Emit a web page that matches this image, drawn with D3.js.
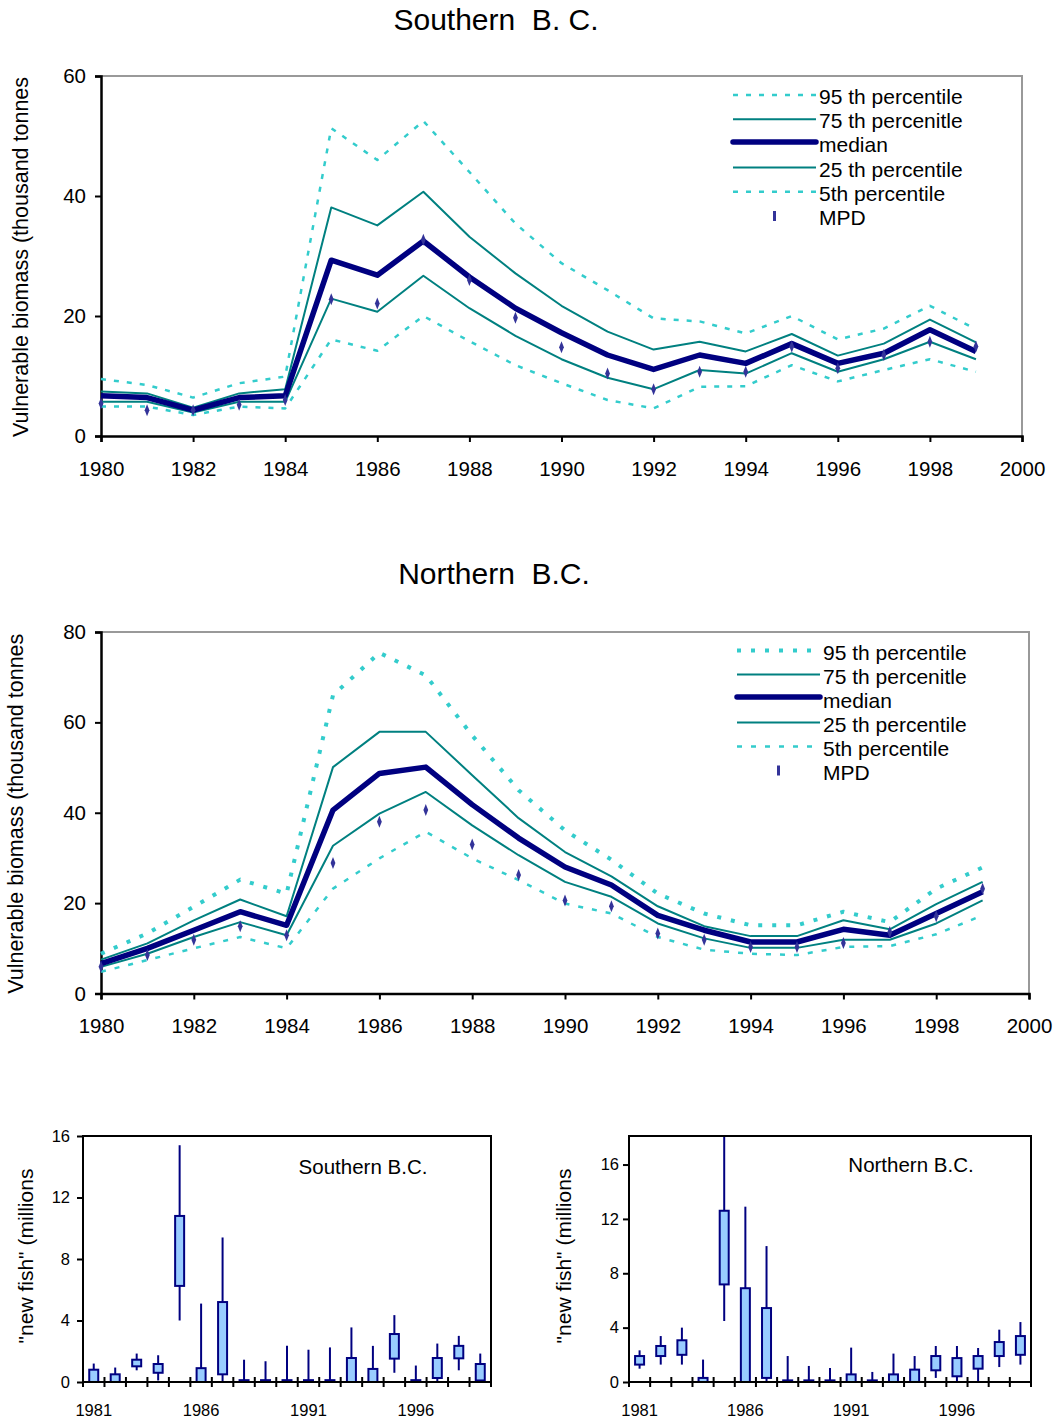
<!DOCTYPE html>
<html><head><meta charset="utf-8">
<script src="https://cdn.jsdelivr.net/npm/d3@7"></script>
<style>
body{margin:0;background:#fff}
text{font-family:"Liberation Sans",Arial,sans-serif;fill:#000;white-space:pre}
</style>
</head><body>
<svg id="chart" width="1055" height="1422"></svg>
<script>
// ---------- DATA ----------
const years = [1980,1981,1982,1983,1984,1985,1986,1987,1988,1989,1990,1991,1992,1993,1994,1995,1996,1997,1998,1999];
const xTickYears = [1980,1982,1984,1986,1988,1990,1992,1994,1996,1998,2000];
const southYTicks = [0,20,40,60];
const northYTicks = [0,20,40,60,80];

const southP95 = [9.5,8.5,6.4,8.8,9.9,51.3,46.0,52.5,44.0,35.4,28.8,24.3,19.6,19.1,17.1,20.0,16.1,17.9,21.7,17.8];
const southP75 = [7.4,7.1,4.7,7.1,7.8,38.1,35.1,40.7,33.2,27.1,21.7,17.4,14.4,15.7,14.1,17.0,13.4,15.4,19.4,15.6];
const southMedian = [6.7,6.4,4.3,6.4,6.7,29.3,26.8,32.5,26.5,21.3,17.2,13.5,11.1,13.5,12.1,15.4,12.1,13.8,17.7,14.1];
const southP25 = [5.7,5.7,3.9,5.7,5.7,22.9,20.7,26.7,21.3,16.7,12.8,9.7,7.8,11.0,10.4,13.8,10.7,12.8,15.7,12.8];
const southP5 = [4.9,4.9,3.5,4.9,4.6,16.1,14.2,20.0,15.8,11.8,8.8,6.0,4.6,8.2,8.3,11.8,9.1,11.0,12.8,10.7];
const southMPD = [5.4,4.3,4.3,5.2,6.0,22.8,22.1,32.7,26.0,19.7,14.8,10.4,7.8,10.7,10.7,14.9,11.3,13.5,15.7,14.9];

const northP95 = [8.8,13.3,19.2,25.2,22.1,66.0,75.4,70.4,57.1,45.0,36.1,29.6,22.1,17.7,15.1,15.1,18.1,15.8,23.2,27.9];
const northP75 = [7.5,11.1,16.2,20.8,17.1,50.1,57.9,57.9,48.3,38.8,31.3,25.9,19.3,14.9,12.7,12.7,16.2,14.2,19.8,24.7];
const northMedian = [6.6,10.0,14.0,18.1,15.1,40.6,48.7,50.1,41.8,34.4,28.0,24.0,17.3,14.0,11.4,11.4,14.2,12.9,17.7,22.5];
const northP25 = [5.9,8.8,12.5,15.8,12.9,32.7,39.8,44.6,37.2,30.6,24.7,21.4,15.5,12.2,10.1,10.1,11.9,11.9,15.5,20.6];
const northP5 = [4.8,7.4,10.0,12.5,10.0,23.2,29.9,35.8,29.9,25.1,19.9,17.7,12.5,9.7,8.8,8.5,10.3,10.5,13.1,17.3];
const northMPD = [5.9,8.5,11.9,14.9,12.9,28.9,38.0,40.6,33.0,26.2,20.6,19.3,13.3,11.9,10.3,10.3,11.2,13.6,17.1,23.2];

const legendLabels = ["95 th percentile","75 th percenitle","median","25 th percentile","5th percentile","MPD"];

const recruitYears = [1981,1982,1983,1984,1985,1986,1987,1988,1989,1990,1991,1992,1993,1994,1995,1996,1997,1998,1999];
const boxXLabels = [1981,1986,1991,1996];
const boxYTicks = [0,4,8,12,16];

const southLow  = [0,0,0.76,0.1,4.0,0,0,0,0,0,0,0,0,0,0.6,0,0,0.76,0];
const southQ1   = [0,0,1.02,0.6,6.25,0,0.5,0,0,0,0,0,0,0,1.52,0,0.26,1.54,0.1];
const southQ3   = [0.8,0.5,1.45,1.17,10.8,0.9,5.2,0.12,0.12,0.12,0.12,0.12,1.56,0.85,3.12,0.12,1.56,2.35,1.17];
const southHigh = [1.2,0.94,1.85,1.74,15.4,5.1,9.4,1.45,1.35,2.35,2.1,2.25,3.55,2.35,4.35,1.07,2.5,3.0,1.85];

const northLow  = [0.98,1.28,1.28,0,4.49,0,0,0,0,0,0,0,0,0,0.3,0,0,1.1,1.28];
const northQ1   = [1.28,1.91,2.0,0,7.18,0,0.3,0,0,0,0,0,0,0,0.86,0.42,0.98,1.91,2.0];
const northQ3   = [1.91,2.65,3.07,0.3,12.6,6.9,5.44,0.12,0.12,0.12,0.56,0.12,0.56,0.91,1.91,1.76,1.91,2.94,3.38];
const northHigh = [2.33,3.38,4.0,1.65,19,12.9,10.0,1.91,1.18,1.03,2.53,0.74,2.09,1.91,2.65,2.65,2.5,3.85,4.41];

// ---------- STYLES ----------
const CYAN = "#33cccc", TEAL = "#008080", NAVY = "#000080", MPDC = "#333399", BOXFILL = "#99ccff";
const FONT = '"Liberation Sans",Arial,sans-serif';

const svg = d3.select("#chart");

function lineChart(cfg) {
  const g = svg.append("g");
  const x = d3.scaleLinear().domain([1980, 2000]).range([cfg.left, cfg.right]);
  const y = d3.scaleLinear().domain([0, cfg.ymax]).range([cfg.bottom, cfg.top]);

  // title
  g.append("text").attr("x", cfg.titleX).attr("y", cfg.titleY)
    .attr("text-anchor", "middle").style("font-size", "30px").text(cfg.title);
  // y label
  g.append("text")
    .attr("transform", `translate(${cfg.ylabX},${(cfg.top + cfg.bottom) / 2 + 1}) rotate(-90)`)
    .attr("text-anchor", "middle").style("font-size", "21.5px")
    .text("Vulnerable biomass (thousand tonnes");

  // gray frame top & right
  g.append("path")
    .attr("d", `M${cfg.left},${cfg.top}H${cfg.right}V${cfg.bottom}`)
    .attr("fill", "none").attr("stroke", "#999").attr("stroke-width", 2);

  // axes
  const ax = g.append("g").attr("transform", `translate(0,${cfg.bottom})`)
    .call(d3.axisBottom(x).tickValues(xTickYears).tickFormat(d3.format("d")).tickSizeOuter(0).tickSize(6).tickPadding(19));
  const ay = g.append("g").attr("transform", `translate(${cfg.left},0)`)
    .call(d3.axisLeft(y).tickValues(cfg.yTicks).tickSizeOuter(0).tickSize(6).tickPadding(9));
  [ax, ay].forEach(a => {
    a.selectAll("path.domain").attr("stroke", "#000").attr("stroke-width", 2.5);
    a.selectAll(".tick line").attr("stroke", "#000").attr("stroke-width", 2);
    a.selectAll("text").style("font-size", "20.5px").attr("fill", "#000").style("font-family", FONT);
  });

  const line = d3.line().x((d, i) => x(years[i])).y(d => y(d));
  const series = [
    {v: cfg.p95, c: CYAN, w: cfg.p95w, dash: cfg.p95dash},
    {v: cfg.p75, c: TEAL, w: 2, dash: null},
    {v: cfg.med, c: NAVY, w: 5.5, dash: null},
    {v: cfg.p25, c: TEAL, w: 2, dash: null},
    {v: cfg.p5, c: CYAN, w: cfg.p5w, dash: cfg.p5dash},
  ];
  const drawOrder = [0, 4, 1, 3, 2];
  drawOrder.forEach(k => {
    const s = series[k];
    g.append("path").attr("d", line(s.v)).attr("fill", "none")
      .attr("stroke", s.c).attr("stroke-width", s.w)
      .attr("stroke-dasharray", s.dash).attr("stroke-linejoin", "round");
  });
  // MPD markers
  g.selectAll(null).data(cfg.mpd).enter().append("path")
    .attr("transform", (d, i) => `translate(${x(years[i])},${y(d)})`)
    .attr("d", "M0,-6L2.4,0L0,6L-2.4,0Z").attr("fill", MPDC);

  // legend
  const lg = g.append("g");
  legendLabels.forEach((lab, i) => {
    const by = cfg.legY + i * cfg.legStep;
    const ly = by - (i === 2 ? 10.5 : 9);
    if (i < 5) {
      const s = series[i];
      lg.append("line").attr("x1", cfg.legX1).attr("x2", cfg.legX2).attr("y1", ly).attr("y2", ly)
        .attr("stroke", s.c).attr("stroke-width", s.w).attr("stroke-dasharray", s.dash)
        .attr("stroke-linecap", i === 2 ? "round" : "butt");
    } else {
      lg.append("rect").attr("x", (cfg.legX1 + cfg.legX2) / 2 - 1.5).attr("y", ly - 5).attr("width", 3).attr("height", 10).attr("fill", MPDC);
    }
    lg.append("text").attr("x", cfg.legX2 + 3).attr("y", by).style("font-size", "21px").text(lab);
  });
}

lineChart({
  title: "Southern  B. C.", titleX: 496, titleY: 30,
  left: 101, right: 1022, top: 76, bottom: 436, ymax: 60, yTicks: southYTicks, ylabX: 28,
  p95: southP95, p75: southP75, med: southMedian, p25: southP25, p5: southP5, mpd: southMPD,
  p95w: 2.5, p95dash: "5,8", p5w: 2.5, p5dash: "5,8",
  legX1: 733, legX2: 816, legY: 104, legStep: 24.2
});

lineChart({
  title: "Northern  B.C.", titleX: 494, titleY: 584,
  left: 101, right: 1029, top: 632, bottom: 993.5, ymax: 80, yTicks: northYTicks, ylabX: 23,
  p95: northP95, p75: northP75, med: northMedian, p25: northP25, p5: northP5, mpd: northMPD,
  p95w: 4, p95dash: "4,10", p5w: 2.5, p5dash: "5,9",
  legX1: 737, legX2: 820, legY: 659.5, legStep: 24
});

function boxChart(cfg) {
  const g = svg.append("g");
  const x = d3.scaleBand().domain(recruitYears).range([cfg.left, cfg.right]).padding(0);
  const y = d3.scaleLinear().domain([0, cfg.ymax]).range([cfg.bottom, cfg.top]);
  const bw = x.bandwidth();
  const clipId = "clip" + cfg.id;
  g.append("clipPath").attr("id", clipId).append("rect")
    .attr("x", cfg.left).attr("y", cfg.top).attr("width", cfg.right - cfg.left).attr("height", cfg.bottom - cfg.top);

  // y label
  g.append("text")
    .attr("transform", `translate(${cfg.ylabX},${cfg.ylabY}) rotate(-90)`)
    .attr("text-anchor", "middle").style("font-size", "21px")
    .text('"new fish" (millions');

  // y axis
  const ay = g.append("g").attr("transform", `translate(${cfg.left},0)`)
    .call(d3.axisLeft(y).tickValues(boxYTicks).tickSizeOuter(0).tickSize(6).tickPadding(cfg.yPad));
  ay.selectAll("path.domain").remove();
  ay.selectAll(".tick line").attr("stroke", "#000").attr("stroke-width", 2);
  ay.selectAll("text").style("font-size", "16.5px").attr("fill", "#000").style("font-family", FONT);

  // x labels
  const ax = g.append("g").attr("transform", `translate(0,${cfg.bottom})`)
    .call(d3.axisBottom(x).tickValues(boxXLabels).tickSize(0).tickPadding(22));
  ax.selectAll("path.domain").remove();
  ax.selectAll("text").style("font-size", "16.5px").attr("fill", "#000").style("font-family", FONT);

  // x crossing ticks at band boundaries
  const bounds = recruitYears.map(d => x(d)).concat([x(recruitYears[recruitYears.length - 1]) + bw]);
  g.selectAll(null).data(bounds).enter().append("line")
    .attr("x1", d => d).attr("x2", d => d).attr("y1", cfg.bottom - 5).attr("y2", cfg.bottom + 5)
    .attr("stroke", "#000").attr("stroke-width", 2);

  // boxes
  const pg = g.append("g").attr("clip-path", `url(#${clipId})`);
  const boxW = 9;
  recruitYears.forEach((yr, i) => {
    const cx = x(yr) + bw / 2;
    pg.append("line").attr("x1", cx).attr("x2", cx)
      .attr("y1", y(cfg.low[i])).attr("y2", y(cfg.high[i]))
      .attr("stroke", NAVY).attr("stroke-width", 2);
    pg.append("rect").attr("x", cx - boxW / 2).attr("y", y(cfg.q3[i]))
      .attr("width", boxW).attr("height", Math.max(0.5, y(cfg.q1[i]) - y(cfg.q3[i])))
      .attr("fill", BOXFILL).attr("stroke", NAVY).attr("stroke-width", 2);
  });

  // frame
  g.append("rect").attr("x", cfg.left).attr("y", cfg.top)
    .attr("width", cfg.right - cfg.left).attr("height", cfg.bottom - cfg.top)
    .attr("fill", "none").attr("stroke", "#000").attr("stroke-width", 2);

  g.append("text").attr("x", cfg.labX).attr("y", cfg.labY).attr("text-anchor", "middle")
    .style("font-size", "20.5px").text(cfg.label);
}

boxChart({
  id: "s", left: 83, right: 491, top: 1136, bottom: 1382, ymax: 16, yPad: 7,
  low: southLow, q1: southQ1, q3: southQ3, high: southHigh,
  ylabX: 33, ylabY: 1256, label: "Southern B.C.", labX: 363, labY: 1174
});
boxChart({
  id: "n", left: 629, right: 1031, top: 1136, bottom: 1382, ymax: 18.1, yPad: 4,
  low: northLow, q1: northQ1, q3: northQ3, high: northHigh,
  ylabX: 571, ylabY: 1256, label: "Northern B.C.", labX: 911, labY: 1172
});
</script>
</body></html>
